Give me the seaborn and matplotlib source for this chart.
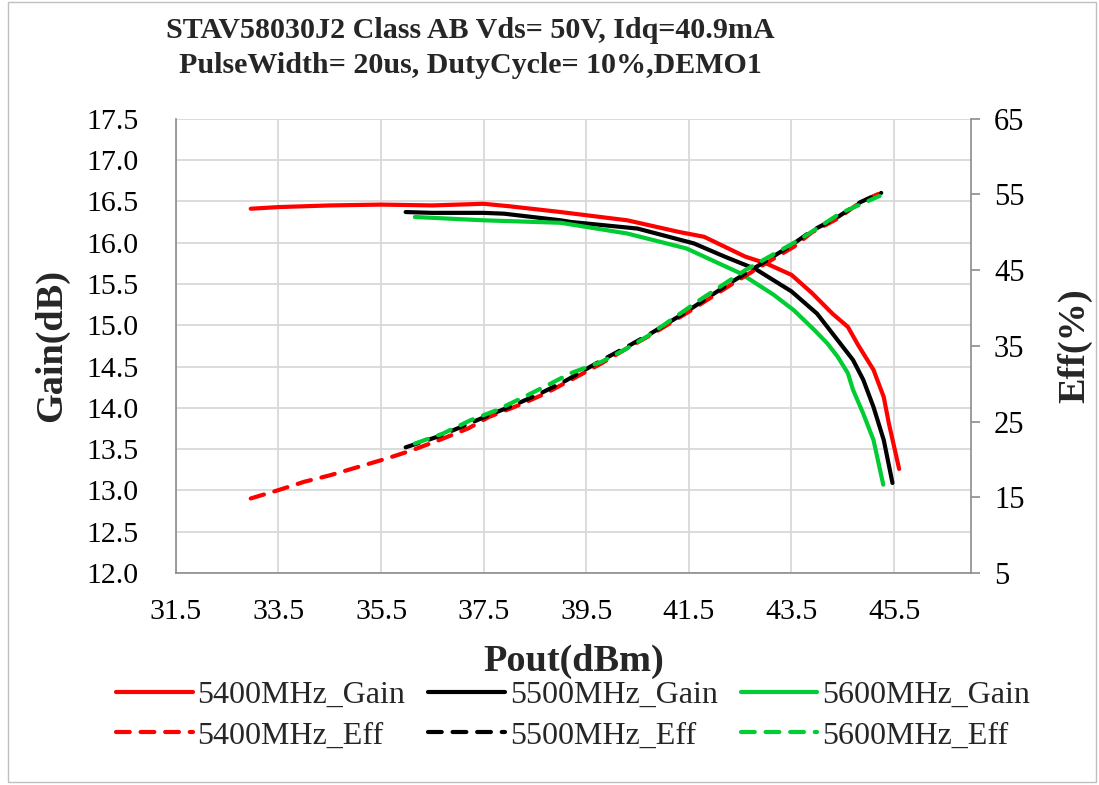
import matplotlib
matplotlib.use("Agg")
import matplotlib.pyplot as plt
import numpy as np
import pandas as pd
import seaborn as sns
from matplotlib.patches import Rectangle

# Gain curves (Pout dBm -> Gain dB)
pout_5400_gain = [32.96, 33.5, 34.5, 35.5, 36.5, 37.5, 38.0, 39.0, 40.3, 41.3, 41.8, 42.2,
                  42.6, 43.0, 43.5, 43.9, 44.3, 44.6, 44.8, 45.1, 45.3, 45.4, 45.6]
gain_5400 = [16.41, 16.43, 16.45, 16.46, 16.45, 16.47, 16.44, 16.37, 16.27, 16.13, 16.07, 15.95,
             15.83, 15.75, 15.61, 15.39, 15.14, 14.98, 14.76, 14.46, 14.13, 13.81, 13.26]

pout_5500_gain = [35.98, 36.5, 37.5, 37.9, 39.0, 39.2, 40.5, 41.6, 42.2, 42.8, 43.5, 44.0,
                  44.4, 44.7, 44.9, 45.1, 45.3, 45.47]
gain_5500 = [16.37, 16.36, 16.36, 16.35, 16.27, 16.25, 16.17, 15.99, 15.83, 15.68, 15.41, 15.14,
             14.82, 14.58, 14.34, 14.01, 13.61, 13.09]

pout_5600_gain = [36.16, 37.5, 39.0, 40.3, 41.45, 42.5, 43.15, 43.55, 43.95, 44.2, 44.4, 44.6,
                  44.7, 44.9, 45.1, 45.29]
gain_5600 = [16.31, 16.27, 16.24, 16.11, 15.93, 15.63, 15.37, 15.18, 14.94, 14.78, 14.62, 14.42,
             14.22, 13.93, 13.61, 13.07]

# Efficiency curves (Pout dBm -> Eff %)
pout_5400_eff = [32.96, 33.5, 34.0, 34.5, 35.1, 35.6, 36.1, 36.65, 37.2, 37.6, 38.2, 38.7,
                 39.2, 39.8, 40.3, 40.75, 41.45, 42.35, 43.0, 43.55, 43.9, 44.4, 44.85, 45.32]
eff_5400 = [14.85, 15.95, 17.05, 17.9, 19.1, 20.1, 21.2, 22.6, 24.1, 25.6, 27.2, 28.7,
            30.5, 32.7, 34.7, 36.4, 39.3, 43.2, 45.9, 48.1, 50.0, 51.8, 54.0, 55.45]

pout_5500_eff = [35.98, 36.6, 37.1, 37.55, 38.1, 38.6, 39.1, 39.75, 40.3, 40.75, 41.45, 42.35,
                 43.0, 43.5, 43.9, 44.4, 44.85, 45.25]
eff_5500 = [21.6, 23.0, 24.4, 25.7, 27.2, 28.7, 30.4, 32.9, 34.9, 36.6, 39.5, 43.5,
            46.2, 48.3, 50.2, 52.0, 54.0, 55.2]

pout_5600_eff = [36.16, 36.7, 37.25, 37.75, 38.3, 38.8, 39.2, 39.8, 40.3, 40.7, 41.7, 42.6,
                 43.65, 44.45, 45.22]
eff_5600 = [22.1, 23.4, 25.2, 26.5, 28.3, 30.0, 31.4, 32.9, 34.7, 36.3, 41.0, 45.0,
            49.0, 52.5, 54.8]

freqs = ["5400MHz", "5500MHz", "5600MHz"]
colors = ["#ff0000", "#000000", "#00cc33"]
x_ticks = [31.5, 33.5, 35.5, 37.5, 39.5, 41.5, 43.5, 45.5]
gain_ticks = np.arange(12.0, 17.51, 0.5)
eff_ticks = [5, 15, 25, 35, 45, 55, 65]

sns.set_theme(style="white")
plt.rcParams['font.family'] = ['Liberation Serif', 'DejaVu Serif']

fig = plt.figure(figsize=(10.99, 7.85), dpi=100)
ax = fig.add_axes([0.160, 0.270, 0.7235, 0.5788])
ax2 = ax.twinx()

gain_sets = [(pout_5400_gain, gain_5400), (pout_5500_gain, gain_5500), (pout_5600_gain, gain_5600)]
eff_sets = [(pout_5400_eff, eff_5400), (pout_5500_eff, eff_5500), (pout_5600_eff, eff_5600)]

handles = []
labels = []
for f, c, (gx, gy), (ex, ey) in zip(freqs, colors, gain_sets, eff_sets):
    sns.lineplot(x=gx, y=gy, ax=ax, color=c, linewidth=3, sort=False,
                 solid_capstyle='round')
    hg = ax.lines[-1]
    sns.lineplot(x=ex, y=ey, ax=ax2, color=c, linewidth=3, sort=False)
    he = ax2.lines[-1]
    he.set_dashes((3.3, 2.6))
    he.set_dash_capstyle('round')
    handles += [hg, he]
    labels += [f + "_Gain", f + "_Eff"]

ax.set_xlim(31.5, 47.0)
ax.set_ylim(12.0, 17.5)
ax2.set_ylim(5, 65)
ax.set_xticks(x_ticks)
ax.set_xticklabels([f"{v:.1f}" for v in x_ticks])
ax.set_yticks(gain_ticks)
ax.set_yticklabels([f"{v:.1f}" for v in gain_ticks])
ax2.set_yticks(eff_ticks)

ax.grid(True, color="#d9d9d9", linewidth=1.3)
ax2.grid(False)
ax.set_axisbelow(True)

spine_c = "#8c8c8c"
for s in ["top", "right"]:
    ax.spines[s].set_visible(False)
for s in ["top", "left", "bottom"]:
    ax2.spines[s].set_visible(False)
ax.spines["left"].set_color(spine_c)
ax.spines["bottom"].set_color(spine_c)
ax2.spines["right"].set_color(spine_c)
ax.spines["left"].set_linewidth(1.2)
ax.spines["bottom"].set_linewidth(1.2)
ax2.spines["right"].set_linewidth(1.2)

ax.tick_params(axis="x", length=0, pad=19, labelsize=21.5, colors="black")
ax.tick_params(axis="y", length=0, pad=27, labelsize=21.5, colors="black")
ax2.tick_params(axis="y", right=True, length=6.5, width=1.2, color=spine_c,
                pad=10, labelsize=22, labelcolor="black")

ax.set_xlabel("Pout(dBm)", fontsize=27.5, fontweight="bold")
ax.set_ylabel("Gain(dB)", fontsize=27.5, fontweight="bold")
ax2.set_ylabel("Eff(%)", fontsize=27.5, fontweight="bold")
ax.xaxis.set_label_coords(0.5, -0.155)
ax.yaxis.set_label_coords(-0.134, 0.5)
ax2.yaxis.set_label_coords(1.108, 0.5)

fig.text(470 / 1099, 0.9385,
         "STAV58030J2 Class AB Vds= 50V, Idq=40.9mA\nPulseWidth= 20us, DutyCycle= 10%,DEMO1",
         ha="center", va="center", fontsize=21.6, fontweight="bold", linespacing=1.4)

fig.legend(handles, labels, loc="center", bbox_to_anchor=(573 / 1099, 0.0885), ncol=3,
           frameon=False, fontsize=23, handlelength=2.4, handletextpad=0.15,
           columnspacing=0.72, labelspacing=0.35)

fig.patches.append(Rectangle((0.007, 0.004), 0.99, 0.993, transform=fig.transFigure,
                             fill=False, edgecolor="#c0c0c0", linewidth=1))

fig.savefig("out.png", dpi=100)
